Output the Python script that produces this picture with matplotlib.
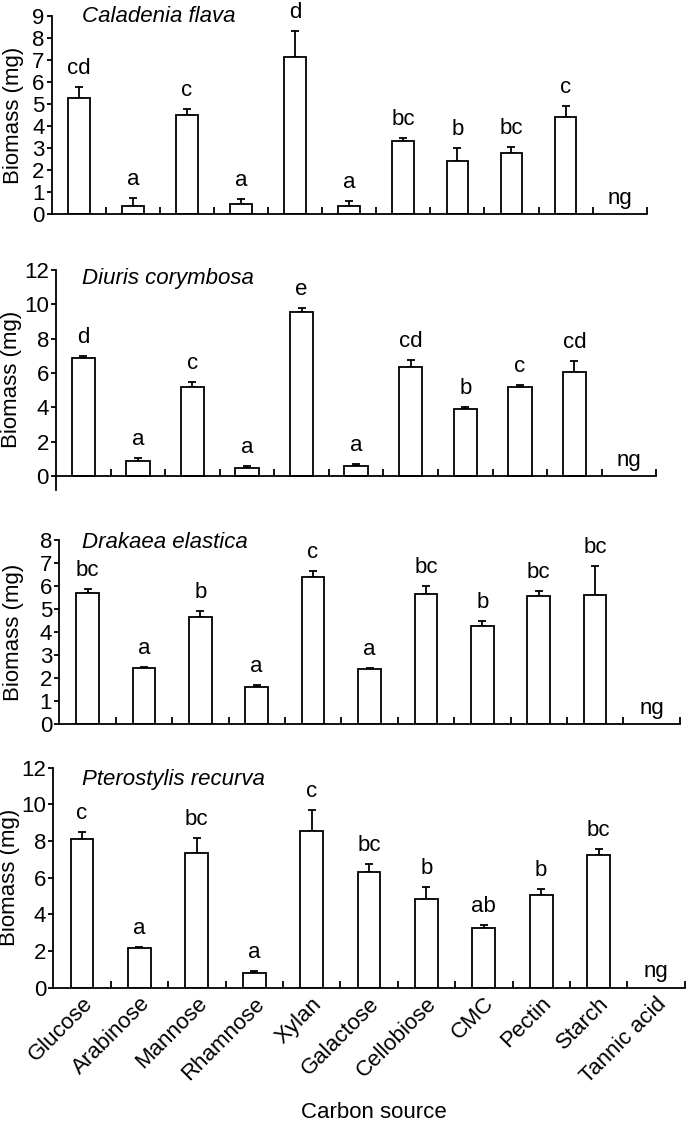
import numpy as np
import matplotlib
matplotlib.use("Agg")
import matplotlib.pyplot as plt

plt.rcParams['font.family'] = ['Liberation Sans', 'DejaVu Sans']
FS = 16
plt.rcParams['font.size'] = FS

# Dados
carbon_sources = ["Glucose", "Arabinose", "Mannose", "Rhamnose", "Xylan", "Galactose",
                  "Cellobiose", "CMC", "Pectin", "Starch", "Tannic acid"]

caladenia_mean = [5.29, 0.38, 4.50, 0.44, 7.12, 0.36, 3.33, 2.41, 2.77, 4.40, np.nan]
caladenia_se = [0.50, 0.36, 0.27, 0.24, 1.21, 0.24, 0.14, 0.58, 0.29, 0.50, np.nan]
caladenia_letters = ["cd", "a", "c", "a", "d", "a", "bc", "b", "bc", "c", "ng"]

diuris_mean = [6.86, 0.89, 5.20, 0.49, 9.55, 0.58, 6.37, 3.90, 5.17, 6.04, np.nan]
diuris_se = [0.13, 0.16, 0.29, 0.11, 0.23, 0.10, 0.37, 0.12, 0.15, 0.66, np.nan]
diuris_letters = ["d", "a", "c", "a", "e", "a", "cd", "b", "c", "cd", "ng"]

drakaea_mean = [5.69, 2.43, 4.64, 1.62, 6.41, 2.41, 5.66, 4.28, 5.57, 5.63, np.nan]
drakaea_se = [0.18, 0.07, 0.28, 0.10, 0.26, 0.05, 0.34, 0.19, 0.23, 1.25, np.nan]
drakaea_letters = ["bc", "a", "b", "a", "c", "a", "bc", "b", "bc", "bc", "ng"]

pterostylis_mean = [8.11, 2.18, 7.35, 0.82, 8.55, 6.33, 4.82, 3.27, 5.07, 7.24, np.nan]
pterostylis_se = [0.40, 0.06, 0.83, 0.11, 1.14, 0.40, 0.67, 0.13, 0.33, 0.34, np.nan]
pterostylis_letters = ["c", "a", "bc", "a", "c", "bc", "b", "ab", "b", "bc", "ng"]

W, H = 686, 1124
fig = plt.figure(figsize=(W / 100, H / 100), dpi=100)


# Cria eixos a partir de pixels (esquerda, direita, topo, base)
def px_axes(left, right, top, bottom):
    return fig.add_axes([left / W, 1 - bottom / H, (right - left) / W, (bottom - top) / H])


def panel(ax, means, se, letters, title, ylim, yticks, title_xy, ylab_x, width=0.41, xlabels=False):
    x = np.arange(len(carbon_sources))
    means = np.array(means, dtype=float)
    se = np.array(se, dtype=float)
    ok = ~np.isnan(means)

    ax.bar(x[ok], means[ok], width=width, color="white", edgecolor="black", linewidth=1.3, zorder=2)
    lower = np.zeros(ok.sum())
    ax.errorbar(x[ok], means[ok], yerr=[lower, se[ok]], fmt="none", ecolor="black",
                elinewidth=1.3, capsize=3.2, capthick=1.3, zorder=1)

    # letras de significância
    for i in range(len(x)):
        if ok[i]:
            top = means[i] + se[i]
            off = 9.4
        else:
            top = 0
            off = 7.5
        ax.annotate(letters[i], (x[i], top), xytext=(0, off), textcoords="offset points",
                    ha="center", va="baseline", fontsize=FS)

    ax.set_xlim(-0.5, len(x) - 0.5)
    ax.set_ylim(*ylim)
    ax.set_yticks(yticks)
    ax.spines["top"].set_visible(False)
    ax.spines["right"].set_visible(False)
    ax.spines["left"].set_linewidth(1.3)
    ax.spines["bottom"].set_linewidth(1.3)
    ax.spines["bottom"].set_position(("data", 0))

    ax.set_xticks(x)
    ax.set_xticks(np.arange(0.5, len(x), 1.0), minor=True)
    ax.tick_params(axis="x", which="major", length=0, pad=4)
    ax.tick_params(axis="x", which="minor", direction="in", length=5, width=1.3)
    ax.tick_params(axis="y", direction="out", length=3.6, width=1.3, pad=1.5, labelsize=FS)
    if xlabels:
        ax.set_xticklabels(carbon_sources, rotation=45, ha="right", va="top",
                           rotation_mode="anchor", fontsize=FS)
    else:
        ax.set_xticklabels([])

    ax.set_ylabel("Biomass (mg)", fontsize=FS)
    ax.yaxis.set_label_coords(ylab_x, 0.5)
    ax.text(title_xy[0], title_xy[1], title, transform=ax.transAxes, style="italic",
            ha="left", va="baseline", fontsize=FS)


ax1 = px_axes(51.7, 646.7, 16, 214)
panel(ax1, caladenia_mean, caladenia_se, caladenia_letters, "Caladenia flava",
      (0, 9), range(0, 10), (0.051, 0.97), -0.047, width=0.40)

ax2 = px_axes(56, 656.3, 270, 489.7)
panel(ax2, diuris_mean, diuris_se, diuris_letters, "Diuris corymbosa",
      (-0.8, 12), range(0, 13, 2), (0.043, 0.935), -0.057, width=0.43)

ax3 = px_axes(59.3, 679.7, 540, 724.3)
panel(ax3, drakaea_mean, drakaea_se, drakaea_letters, "Drakaea elastica",
      (0, 8), range(0, 9), (0.036, 0.958), -0.057, width=0.40)

ax4 = px_axes(53.3, 684.7, 767.6, 987.7)
panel(ax4, pterostylis_mean, pterostylis_se, pterostylis_letters, "Pterostylis recurva",
      (0, 12), range(0, 13, 2), (0.045, 0.921), -0.053, width=0.40, xlabels=True)

fig.text(374 / W, 1 - 1118 / H, "Carbon source", ha="center", va="baseline", fontsize=FS)

fig.savefig("out.png", dpi=100)
